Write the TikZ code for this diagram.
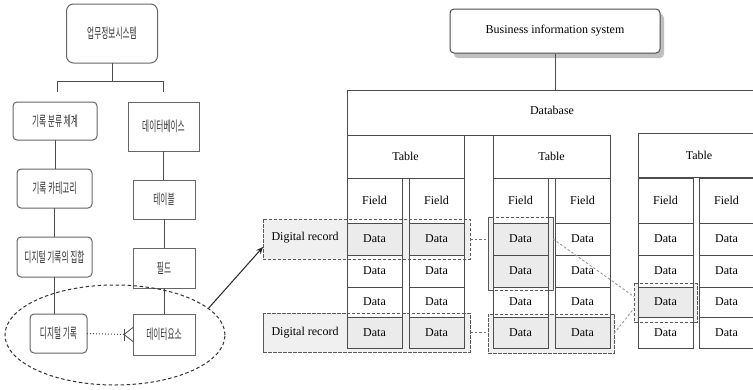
\documentclass[tikz,border=0pt]{standalone}
\usepackage{fontspec}
\usepackage{graphicx}
\newfontfamily\kr{Noto Sans CJK KR}
\newfontfamily\rs{Liberation Serif}
\usetikzlibrary{shapes.geometric,shadows,arrows.meta,calc}
\newcommand\ktxt[1]{\scalebox{0.55}[1]{#1}}
\begin{document}
\begin{tikzpicture}[x=1pt,y=-1pt,
  kbox/.style={draw=black!60, line width=1pt, fill=white, inner sep=0pt, outer sep=0pt, font=\kr\fontsize{14}{15}\selectfont, text=black!80},
  kround/.style={kbox, rounded corners=4pt},
  conn/.style={draw=black!70, line width=1pt},
  cell/.style={draw=black!70, line width=1pt, fill=white, inner sep=0pt, outer sep=0pt, minimum width=55pt, font=\rs\fontsize{12}{13}\selectfont},
  hdr/.style={draw=black!70, line width=1pt, fill=white, inner sep=0pt, outer sep=0pt, font=\rs\fontsize{12}{13}\selectfont},
  grp/.style={draw=black!65, dash pattern=on 3pt off 2pt, line width=0.9pt, fill=black!6, inner sep=0pt, outer sep=0pt},
  link/.style={draw=black!55, dash pattern=on 2.5pt off 2pt, line width=0.9pt},
  txt/.style={inner sep=0pt, font=\rs\fontsize{12}{13}\selectfont}
]
\useasboundingbox (0,0) rectangle (753,389);
\fill[white] (0,0) rectangle (753,389);

% ---------- left: Korean hierarchy ----------
\node[kbox, rounded corners=7pt, minimum width=91pt, minimum height=59pt] (top) at (112,33.5) {\ktxt{업무정보시스템}};
\node[kround, minimum width=84pt, minimum height=38pt] (cls) at (55,121) {\ktxt{기록 분류 체계}};
\node[kbox, minimum width=71pt, minimum height=49pt] (db) at (163.5,126.5) {\ktxt{데이터베이스}};
\node[kround, minimum width=75pt, minimum height=39pt] (cat) at (54.5,188.5) {\ktxt{기록 카테고리}};
\node[kbox, minimum width=62pt, minimum height=39pt] (tbl) at (164,199.5) {\ktxt{테이블}};
\node[kround, minimum width=75pt, minimum height=40pt] (set) at (54.5,257) {\ktxt{디지털 기록의 집합}};
\node[kbox, minimum width=62pt, minimum height=40pt] (fld) at (164,268) {\ktxt{필드}};
\node[kround, minimum width=57pt, minimum height=39pt] (rec) at (58.5,333.5) {\ktxt{디지털 기록}};
\node[kbox, minimum width=62pt, minimum height=41pt] (elem) at (164,334.5) {\ktxt{데이터요소}};

\coordinate (bus) at (112,81);
\coordinate (tl) at (57,81);
\coordinate (tr) at (163,81);
\coordinate (tle) at (57,92);
\coordinate (tre) at (163,92);
\draw[conn] (top.south) -- (bus);
\draw[conn] (tle) -- (tl) -- (tr) -- (tre);
\draw[conn] (cls.south) -- (cls.south |- cat.north);
\draw[conn] (cat.south) -- (cat.south |- set.north);
\draw[conn] (set.south) -- (set.south |- rec.north);
\draw[conn] (db.south) -- (db.south |- tbl.north);
\draw[conn] (tbl.south) -- (tbl.south |- fld.north);
\draw[conn] (fld.south) -- (fld.south |- elem.north);

% relation with crow's foot
\coordinate (cf) at ($(elem.west)+(-9,0)$);
\draw[black!70, line width=1pt, dotted] (rec.east) -- (cf);
\draw[black!70, line width=0.8pt] ($(cf)+(0,-6)$) -- ($(cf)+(0,6)$);
\draw[black!70, line width=0.8pt] ($(elem.west)+(0,-7)$) -- (cf) -- ($(elem.west)+(0,7)$);

\node[ellipse, draw=black!80, dash pattern=on 3.5pt off 2.5pt, line width=1pt, minimum width=220pt, minimum height=100pt, inner sep=0pt] (ell) at (115,335) {};

% ---------- right: database structure ----------
\node[draw=black!70, line width=1pt, rounded corners=4pt, fill=white, minimum width=210pt, minimum height=44pt, inner sep=0pt,
      drop shadow={shadow xshift=4pt, shadow yshift=-5pt, fill=black!25, opacity=1},
      font=\rs\fontsize{12}{13}\selectfont] (biz) at (555,31) {Business information system};

\node[inner sep=0pt, outer sep=0pt, minimum width=413pt, minimum height=45pt] (dbase) at (553.5,112.5) {};
\node[txt] (dbl) at (552,110) {Database};
\draw[conn] (biz.south) -- (biz.south |- dbase.north);

% dashed groups (behind the cells)
\node[grp, minimum width=207pt, minimum height=40pt] (dr1) at (366.5,239) {};
\node[grp, minimum width=207pt, minimum height=39pt] (dr2) at (366.5,332.5) {};
\node[grp, minimum width=65pt, minimum height=73pt] (g1) at (520.5,253.5) {};
\node[grp, minimum width=126pt, minimum height=39pt] (g2) at (551,333.5) {};
\node[grp, minimum width=63pt, minimum height=39pt] (g3) at (665.5,302.5) {};
\node[txt] (lab1) at (305,238) {Digital record};
\node[txt] (lab2) at (305,333) {Digital record};

% table headers
\node[hdr, minimum width=117pt, minimum height=43pt] (t1h) at (405.5,156.5) {Table};
\node[hdr, minimum width=117pt, minimum height=43pt] (t2h) at (551.5,156.5) {Table};
\node[hdr, minimum width=122pt, minimum height=44pt] (t3h) at (699,155) {Table};

\draw[conn] (dbase.south west) -- (dbase.north west) -- (dbase.north east);
\draw[conn] (dbase.south west) -- (t2h.north east);

% cells
\foreach \t/\xa/\xb in {1/374.5/436.5, 2/520.5/582.5, 3/665.5/726.5}{
  \foreach \c/\x in {a/\xa, b/\xb}{
    \node[cell, minimum height=45pt] (t\t\c-f) at (\x,200.5) {Field};
    \foreach \r/\y/\h in {1/239/32, 2/271/32, 3/302/30, 4/332.5/31}{
      \node[cell, minimum height=\h pt] (t\t\c-\r) at (\x,\y) {Data};
    }
  }
}
\foreach \n in {t1a-1,t1b-1,t1a-4,t1b-4,t2a-1,t2a-2,t2a-4,t2b-4,t3a-3}{
  \filldraw[fill=black!8, draw=black!70, line width=1pt] (\n.north west) rectangle (\n.south east);
  \node[txt] at (\n) {Data};
}

% redraw dashed outlines over cells
\foreach \g in {dr1,dr2,g1,g2,g3}{
  \draw[draw=black!65, dash pattern=on 3pt off 2pt, line width=0.9pt] (\g.north west) rectangle (\g.south east);
}

% links
\draw[link] (dr1.east) -- (dr1.east -| g1.west);
\draw[link] (dr2.east) -- (dr2.east -| g2.west);
\draw[link, draw=black!40] ($(g1.north east)!0.3!(g1.south east)$) -- ($(g3.west)!0.3!(g3.north west)$);
\draw[link, draw=black!40] (g2.east) -- ($(g3.west)!0.3!(g3.south west)$);

% arrow
\draw[black!85, line width=1pt, -{Stealth[length=7pt,width=6pt]}] (ell.16) -- ($(dr1.south west)!0.3!(dr1.north west)$);
\end{tikzpicture}
\end{document}
